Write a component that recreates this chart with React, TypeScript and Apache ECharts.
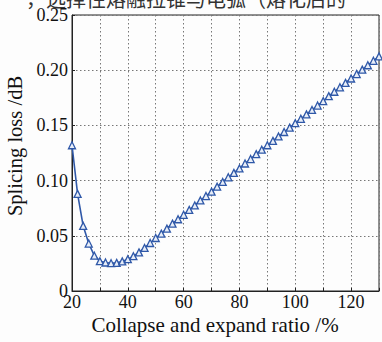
import React, { useEffect, useRef } from "react";
import * as echarts from "echarts";

const ratios = [
  20, 22, 24, 26, 28, 30, 32, 34, 36, 38, 40, 42, 44, 46, 48, 50, 52, 54, 56, 58,
  60, 62, 64, 66, 68, 70, 72, 74, 76, 78, 80, 82, 84, 86, 88, 90, 92, 94, 96, 98,
  100, 102, 104, 106, 108, 110, 112, 114, 116, 118, 120, 122, 124, 126, 128, 130,
];
const losses = [
  0.132, 0.088, 0.059, 0.043, 0.032, 0.027, 0.0258, 0.0252, 0.0255, 0.0268,
  0.0288, 0.0315, 0.035, 0.039, 0.0435, 0.048, 0.052, 0.0565, 0.061, 0.065,
  0.069, 0.0735, 0.0775, 0.082, 0.086, 0.09, 0.0945, 0.0988, 0.103, 0.107,
  0.111, 0.1155, 0.1195, 0.124, 0.128, 0.132, 0.136, 0.14, 0.144, 0.148,
  0.152, 0.156, 0.16, 0.164, 0.168, 0.172, 0.1765, 0.1805, 0.1845, 0.1885,
  0.1925, 0.1965, 0.2005, 0.2045, 0.2085, 0.2125,
];
const xLabels = [20, 40, 60, 80, 100, 120];
const xName = "Collapse and expand ratio /%";
const yName = "Splicing loss /dB";
const caption = "，选择性熔融拉锥与电弧（熔化后的";

const FONT = "'Liberation Serif', 'DejaVu Serif', serif";

export default function App() {
  const ref = useRef<HTMLDivElement>(null);
  useEffect(() => {
    if (!ref.current) return;
    const chart = echarts.init(ref.current, undefined, { renderer: "svg" });
    chart.setOption({
      animation: false,
      backgroundColor: "#fdfdfd",
      grid: {
        left: 72,
        top: 15,
        right: 1,
        bottom: 51,
        show: true,
        borderColor: "#222",
        borderWidth: 1,
        backgroundColor: "transparent",
      },
      xAxis: {
        type: "value",
        min: 20,
        max: 130,
        interval: 10,
        axisLine: { show: true, lineStyle: { color: "#222", width: 1 } },
        axisTick: { show: true, inside: true, length: 3, lineStyle: { color: "#222" } },
        splitLine: { show: true, lineStyle: { type: [1.5, 2.5], color: "#777", width: 1 } },
        axisLabel: {
          color: "#111",
          fontFamily: FONT,
          fontSize: 18,
          margin: 5,
          lineHeight: 11,
          formatter: (v: number) => (xLabels.indexOf(Math.round(v)) >= 0 ? String(Math.round(v)) : ""),
        },
      },
      yAxis: {
        type: "value",
        min: 0,
        max: 0.25,
        interval: 0.05,
        axisLine: { show: true, lineStyle: { color: "#222", width: 1 } },
        axisTick: { show: true, inside: true, length: 3, lineStyle: { color: "#222" } },
        splitLine: { show: true, lineStyle: { type: [1.5, 2.5], color: "#777", width: 1 } },
        axisLabel: {
          color: "#111",
          fontFamily: FONT,
          fontSize: 18,
          margin: 4,
          lineHeight: 11,
          formatter: (v: number) => (v === 0 ? "0" : v.toFixed(2)),
        },
      },
      graphic: [
        {
          type: "text",
          x: 26,
          y: 8,
          silent: true,
          style: {
            text: caption,
            fill: "#333",
            font: `20px 'Noto Sans CJK SC', sans-serif`,
            lineHeight: 20,
            verticalAlign: "bottom",
          },
        },
        {
          type: "text",
          x: 215,
          y: 325,
          style: {
            text: xName,
            fill: "#111",
            font: `21px ${FONT}`,
            lineHeight: 16,
            align: "center",
            verticalAlign: "middle",
          },
        },
        {
          type: "text",
          x: 15,
          y: 146,
          rotation: Math.PI / 2,
          style: {
            text: yName,
            fill: "#111",
            font: `20.5px ${FONT}`,
            align: "center",
            verticalAlign: "middle",
          },
        },
      ],
      series: [
        {
          type: "line",
          data: ratios.map((r, i) => [r, losses[i]]),
          symbol: "triangle",
          symbolSize: 7,
          showAllSymbol: true,
          lineStyle: { color: "#2f58a8", width: 1.6 },
          itemStyle: { color: "#e8eef8", borderColor: "#2f58a8", borderWidth: 1.3 },
          clip: false,
        },
      ],
    });
    return () => chart.dispose();
  }, []);
  return (
    <div
      ref={ref}
      style={{ position: "fixed", left: 0, top: 0, width: 382, height: 342 }}
    />
  );
}
